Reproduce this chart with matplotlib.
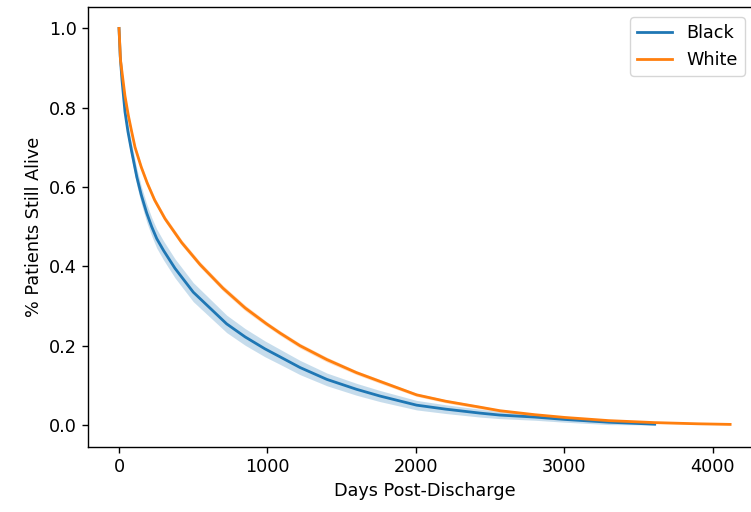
"""Kaplan-Meier style survival curves, Black vs White patients, post discharge."""

import matplotlib.pyplot as plt
import numpy as np

# values (days, survival fraction, CI half-width)
black_days = [0, 8, 20, 40, 60, 85, 120, 150, 186, 220, 254, 300, 377, 500, 725, 850,
              983, 1084, 1219, 1400, 1600, 1758, 2005, 2200, 2431, 2566, 2800, 3003,
              3300, 3609]
black_surv = [1.0, 0.93, 0.87, 0.79, 0.74, 0.69, 0.625, 0.58, 0.535, 0.50, 0.47, 0.44,
              0.395, 0.335, 0.255, 0.222, 0.192, 0.172, 0.145, 0.115, 0.090, 0.073,
              0.050, 0.040, 0.030, 0.025, 0.020, 0.014, 0.007, 0.002]
black_ci = [0.0, 0.012, 0.016, 0.018, 0.019, 0.020, 0.021, 0.022, 0.023, 0.023, 0.024,
            0.024, 0.024, 0.024, 0.022, 0.021, 0.020, 0.019, 0.018, 0.016, 0.015, 0.014,
            0.012, 0.011, 0.010, 0.009, 0.008, 0.007, 0.006, 0.005]

white_days = [0, 10, 20, 40, 63, 85, 108, 150, 190, 240, 310, 422, 545, 700, 850, 994,
              1084, 1219, 1400, 1600, 1758, 2005, 2200, 2431, 2566, 2800, 3003, 3300,
              3609, 3900, 4117]
white_surv = [1.0, 0.92, 0.89, 0.83, 0.78, 0.74, 0.70, 0.65, 0.61, 0.567, 0.52, 0.46,
              0.405, 0.345, 0.295, 0.255, 0.232, 0.200, 0.165, 0.132, 0.110, 0.076,
              0.060, 0.045, 0.036, 0.026, 0.019, 0.011, 0.006, 0.003, 0.0015]
white_ci = [0.0, 0.004, 0.005, 0.005, 0.006, 0.006, 0.006, 0.007, 0.007, 0.007, 0.007,
            0.007, 0.007, 0.007, 0.007, 0.006, 0.006, 0.006, 0.006, 0.005, 0.005, 0.004,
            0.004, 0.004, 0.003, 0.003, 0.003, 0.002, 0.002, 0.001, 0.001]

BLUE = "#1f77b4"
ORANGE = "#ff7f0e"
FS = 12.7

fig = plt.figure(figsize=(7.51, 5.12), dpi=100)
# the reference screenshot cuts the right edge of the axes off
ax = fig.add_axes([88 / 751, 1 - 447 / 512, 673 / 751, 440 / 512])

for days, surv, ci, color, label in [
    (black_days, black_surv, black_ci, BLUE, "Black"),
    (white_days, white_surv, white_ci, ORANGE, "White"),
]:
    d = np.array(days)
    s = np.array(surv)
    c = np.array(ci)
    ax.fill_between(d, np.clip(s - c, 0, None), s + c, color=color, alpha=0.25, linewidth=0)
    ax.plot(d, s, color=color, linewidth=2.0, label=label)

ax.set_xlim(-209, 4325)
ax.set_ylim(-0.0555, 1.054)
ax.set_xticks([0, 1000, 2000, 3000, 4000])
ax.set_yticks([0.0, 0.2, 0.4, 0.6, 0.8, 1.0])
ax.set_yticklabels(["0.0", "0.2", "0.4", "0.6", "0.8", "1.0"])
ax.tick_params(labelsize=FS, length=4.4, width=1.0)
for sp in ax.spines.values():
    sp.set_linewidth(1.0)

ax.set_xlabel("Days Post-Discharge", fontsize=FS)
ax.set_ylabel("% Patients Still Alive", fontsize=FS)

ax.legend(loc="upper right", bbox_to_anchor=(745 / 751, 1 - 17 / 512),
          bbox_transform=fig.transFigure, borderaxespad=0, fontsize=FS)

fig.savefig("out.png", dpi=100)
